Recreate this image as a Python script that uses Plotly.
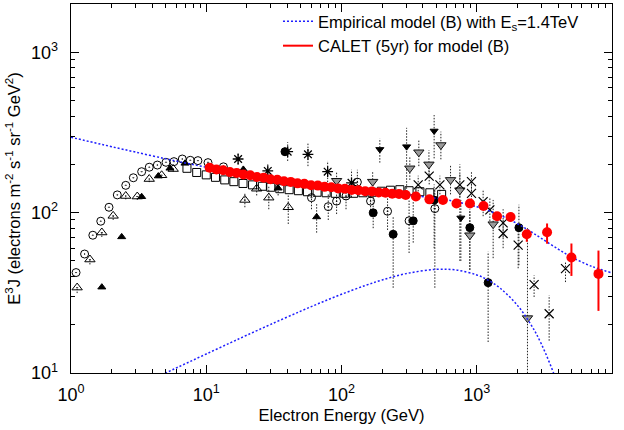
import plotly.graph_objects as go

# ---------------- data ----------------
# model curves (E^3 J)
model_E = [1, 1.5, 2, 3, 5, 7, 10, 15, 20, 30, 50, 70, 100, 150, 200, 300, 500, 700,
           1000, 1200, 1500, 2000, 2500, 3000, 4000, 5000, 7000, 10000]
model_total = [295.3, 272.5, 257.7, 238.5, 216.8, 204.1, 191.9, 179.6, 171.8, 162.1, 151.8,
               146.2, 141.3, 136.4, 133.3, 129.3, 122.9, 117.2, 108.9, 103.5, 96.1, 85.2,
               76.3, 69.2, 59.2, 53.0, 46.4, 42.1]
model_source = [5.27, 6.20, 6.95, 8.18, 10.0, 11.42, 13.14, 15.40, 17.22, 20.11, 24.32, 27.43,
                30.96, 35.14, 38.04, 41.65, 44.29, 43.92, 40.89, 38.13, 33.65, 26.41, 20.21,
                15.21, 8.35, 4.47, 1.225, 0.166]

# CALET (5yr) simulated points
cal_E = [10.59, 11.89, 13.34, 14.96, 16.79, 18.84, 21.13, 23.71, 26.61, 29.85, 33.50, 37.58,
         42.17, 47.32, 53.09, 59.57, 66.83, 74.99, 84.14, 94.41, 105.9, 118.9, 133.4, 149.6,
         167.9, 188.4, 211.3, 237.1, 266.1, 298.5, 354.8, 446.7, 562.3, 707.9, 891.3, 1122,
         1413, 1778, 2344, 3311, 5012, 7943]
cal_Y = [190.5, 186.0, 183.8, 179.0, 176.9, 172.8, 170.9, 166.9, 165.3, 161.6, 160.2, 156.8,
         155.5, 152.3, 151.2, 148.3, 147.4, 144.8, 143.9, 141.6, 140.8, 138.6, 138.0, 136.0,
         135.5, 133.5, 133.1, 131.3, 130.9, 128.8, 126, 121, 120, 114, 114, 110, 95, 94,
         73.4, 75.5, 52.5, 41.5]
cal_err_plus = [0] * 30 + [2, 2, 2.5, 3, 3.5, 4, 5, 6, 4.1, 10.1, 11.7, 16.5]
cal_err_minus = [0] * 30 + [2, 2, 2.5, 3, 3.5, 4, 5, 6, 7.6, 11.5, 12.2, 17.1]

# other measurements
circ_E = [1.09, 1.26, 1.45, 1.66, 1.91, 2.20, 2.54, 2.89, 3.33, 3.79, 4.35, 5.04, 5.77, 6.65,
          7.62, 8.68, 10.3, 13.4, 60, 79.8, 92, 108, 131, 164, 219, 316, 490]
circ_Y = [42.3, 55.2, 72.3, 88.4, 108, 129, 148, 165, 180, 192, 198, 206, 208, 216, 212, 211,
          205, 193, 124, 109, 118, 127, 155, 118, 102, 89, 106]
circ_lo = [42.3, 55.2, 72.3, 88.4, 108, 129, 148, 165, 180, 192, 198, 206, 208, 216, 212, 211,
           200, 188, 105, 90, 98, 105, 130, 95, 78, 56, 34]
circ_hi = [42.3, 55.2, 72.3, 88.4, 108, 129, 148, 165, 180, 192, 198, 206, 208, 216, 212, 211,
           210, 198, 145, 130, 140, 150, 185, 145, 130, 120, 140]

tdot_E = [1.11, 1.38, 1.69, 2.05, 2.54, 3.09, 3.79, 4.68, 5.70, 19.3, 23.6, 29.0, 40.4]
tdot_Y = [34.1, 51, 75.2, 95.5, 127, 126, 162, 171, 187, 120, 141, 124, 108]
tdot_lo = [31.5, 47.5, 70.5, 90, 121, 120, 155, 164, 180, 108, 128, 105, 85]
tdot_hi = [34.1, 51, 75.2, 95.5, 127, 126, 162, 171, 187, 133, 155, 145, 130]

tri_E = [1.69, 2.37, 3.33, 4.42, 5.39, 6.96, 18.8, 34.0, 65.5]
tri_Y = [34.3, 70.6, 125.6, 169, 189, 203, 186, 142, 94]
tri_lo = [34.3, 70.6, 125.6, 169, 189, 203, 175, 128, 75]
tri_hi = [34.3, 70.6, 125.6, 169, 189, 203, 198, 157, 115]

ast_E = [17.2, 28.5, 40.0, 56.5, 79.0, 118.6]
ast_Y = [216, 182, 240, 231, 180, 153.5]
ast_lo = [200, 165, 210, 195, 155, 125]
ast_hi = [232, 200, 275, 275, 210, 185]

dot_E = [38.2, 171.5, 241, 339, 484, 889, 1214, 2050]
dot_Y = [240, 99.7, 73.3, 88.9, 119.8, 80.6, 36.6, 80.6]
dot_lo = [225, 80, 34, 65, 60, 44, 15.6, 47]
dot_hi = [256, 125, 94, 118, 150, 105, 57, 112]

sq_E = [7.2, 8.5, 10, 11.7, 13.7, 16, 18.7, 22, 26, 30, 35, 41, 48, 56, 66, 77, 90, 105,
        123, 144, 168, 197, 230, 270, 316, 380, 450, 550]
sq_Y = [189, 178, 172, 166, 160, 156, 152, 149, 146, 144, 141, 139, 137, 135, 134, 133, 132,
        132, 132, 133, 134, 136, 138, 139, 137, 135, 133, 130]

gtri_E = [92, 170, 320, 373, 443, 543, 640, 750, 889, 1322, 2372]
gtri_Y = [158, 156, 189, 238, 200, 264, 160, 138, 72.3, 84.7, 22]
gtri_lo = [140, 135, 160, 195, 165, 215, 130, 50, 44, 52, 5]
gtri_hi = [178, 180, 225, 285, 245, 320, 200, 200, 103, 120, 80]

btri_E = [192, 303, 484, 763]
btri_Y = [248, 258, 323, 92.7]
btri_lo = [205, 135, 218, 50]
btri_hi = [290, 338, 406, 120]

x_E = [369, 445, 534, 750, 914, 914, 1115, 1250, 1567, 1567, 2024, 2655, 3430, 4530]
x_Y = [149, 169, 149, 149, 156, 132, 117, 104, 86.3, 74.1, 62.7, 35.6, 23.4, 44.8]
x_lo = [130, 150, 130, 125, 135, 110, 95, 85, 70, 60, 45, 29.8, 15.9, 36.9]
x_hi = [170, 190, 170, 175, 180, 155, 140, 125, 105, 90, 80, 40.6, 30.5, 49.2]

x_tick_vals = [1, 10, 100, 1000, 10000]
x_tick_text = ["10<sup>0</sup>", "10<sup>1</sup>", "10<sup>2</sup>", "10<sup>3</sup>", "10<sup>4</sup>"]
y_tick_vals = [10, 100, 1000]
y_tick_text = ["10<sup>1</sup>", "10<sup>2</sup>", "10<sup>3</sup>"]

# ---------------- figure ----------------
FONT = "Liberation Sans, Arial, Helvetica, sans-serif"
fig = go.Figure()


def add_bars(E, lo, hi):
    xs, ys = [], []
    for e, l, h in zip(E, lo, hi):
        if h > l:
            xs += [e, e, None]
            ys += [l, h, None]
    fig.add_trace(go.Scatter(x=xs, y=ys, mode="lines", showlegend=False, hoverinfo="skip",
                             line=dict(color="#222222", width=1, dash="1.5px,1.5px")))


for E, lo, hi in [(circ_E, circ_lo, circ_hi), (tdot_E, tdot_lo, tdot_hi), (tri_E, tri_lo, tri_hi),
                  (ast_E, ast_lo, ast_hi), (dot_E, dot_lo, dot_hi), (gtri_E, gtri_lo, gtri_hi),
                  (btri_E, btri_lo, btri_hi), (x_E, x_lo, x_hi)]:
    add_bars(E, lo, hi)


def add_pts(E, Y, symbol, size, color="black", lcolor="black", lwidth=1):
    fig.add_trace(go.Scatter(x=E, y=Y, mode="markers", showlegend=False,
                             marker=dict(symbol=symbol, size=size, color=color,
                                         line=dict(color=lcolor, width=lwidth))))


add_pts(sq_E, sq_Y, "square-open", 8)
add_pts(circ_E, circ_Y, "circle-open-dot", 8)
add_pts(tdot_E, tdot_Y, "triangle-up-open-dot", 9)
add_pts(tri_E, tri_Y, "triangle-up", 7)
add_pts(ast_E, ast_Y, "asterisk-open", 9, lwidth=1.3)
add_pts(dot_E, dot_Y, "circle", 8)
add_pts(gtri_E, gtri_Y, "triangle-down", 9, color="#9a9a9a", lcolor="#111111")
add_pts(btri_E, btri_Y, "triangle-down", 7)
add_pts(x_E, x_Y, "x-thin-open", 9, lwidth=1.2)

BLUE = "rgb(30,30,255)"
fig.add_trace(go.Scatter(x=model_E, y=model_total, mode="lines", line_shape="spline",
                         name="Empirical model (B) with E<sub>s</sub>=1.4TeV",
                         line=dict(color=BLUE, width=1.5, dash="2px,2px")))
fig.add_trace(go.Scatter(x=model_E, y=model_source, mode="lines", line_shape="spline",
                         showlegend=False,
                         line=dict(color=BLUE, width=1.5, dash="2px,2px")))

RED = "#ff0000"
fig.add_trace(go.Scatter(x=cal_E, y=cal_Y, mode="markers", showlegend=False,
                         marker=dict(symbol="circle", size=10, color=RED),
                         error_y=dict(type="data", symmetric=False, array=cal_err_plus,
                                      arrayminus=cal_err_minus, color=RED, thickness=2, width=0)))
fig.add_trace(go.Scatter(x=[None], y=[None], mode="lines", name="CALET (5yr) for model (B)",
                         line=dict(color=RED, width=2)))

minor_x = [m * 10 ** k for k in range(4) for m in range(2, 10)]
minor_y = [m * 10 ** k for k in (1, 2, 3) for m in range(2, 10) if m * 10 ** k <= 2000]

axis_common = dict(type="log", showgrid=False, zeroline=False, showline=True, linecolor="black",
                   linewidth=1.3, mirror="allticks", ticks="inside", ticklen=8, tickwidth=1,
                   tickcolor="black", tickmode="array", tickfont=dict(size=18, family=FONT))

fig.update_layout(
    width=624, height=430,
    margin=dict(l=71, r=12, t=4, b=57),
    paper_bgcolor="white", plot_bgcolor="white",
    font=dict(family=FONT, size=16, color="black"),
    legend=dict(x=0.3826, y=1, xanchor="left", yanchor="top", bgcolor="rgba(0,0,0,0)",
                font=dict(size=16.5, family=FONT), itemwidth=30, borderwidth=0),
    xaxis=dict(range=[0, 4], tickvals=x_tick_vals, ticktext=x_tick_text,
               minor=dict(tickmode="array", tickvals=minor_x, ticks="inside", ticklen=4,
                          tickcolor="black", showgrid=False),
               ticklabelstandoff=5,
               title=dict(text="Electron Energy (GeV)", font=dict(size=16.5), standoff=5),
               **axis_common),
    yaxis=dict(range=[1, 3.30103], tickvals=y_tick_vals, ticktext=y_tick_text,
               minor=dict(tickmode="array", tickvals=minor_y, ticks="inside", ticklen=4,
                          tickcolor="black", showgrid=False),
               ticklabelstandoff=8,
               title=dict(text="E<sup>3</sup>J (electrons m<sup>-2</sup> s<sup>-1</sup> sr<sup>-1</sup> GeV<sup>2</sup>)",
                          font=dict(size=16.5), standoff=6),
               **axis_common),
)

fig.write_html("out.html",
               config={"displayModeBar": False, "staticPlot": True},
               post_script="document.body.style.margin='0px';document.body.style.padding='0px';"
                           "document.body.style.overflow='hidden';")
